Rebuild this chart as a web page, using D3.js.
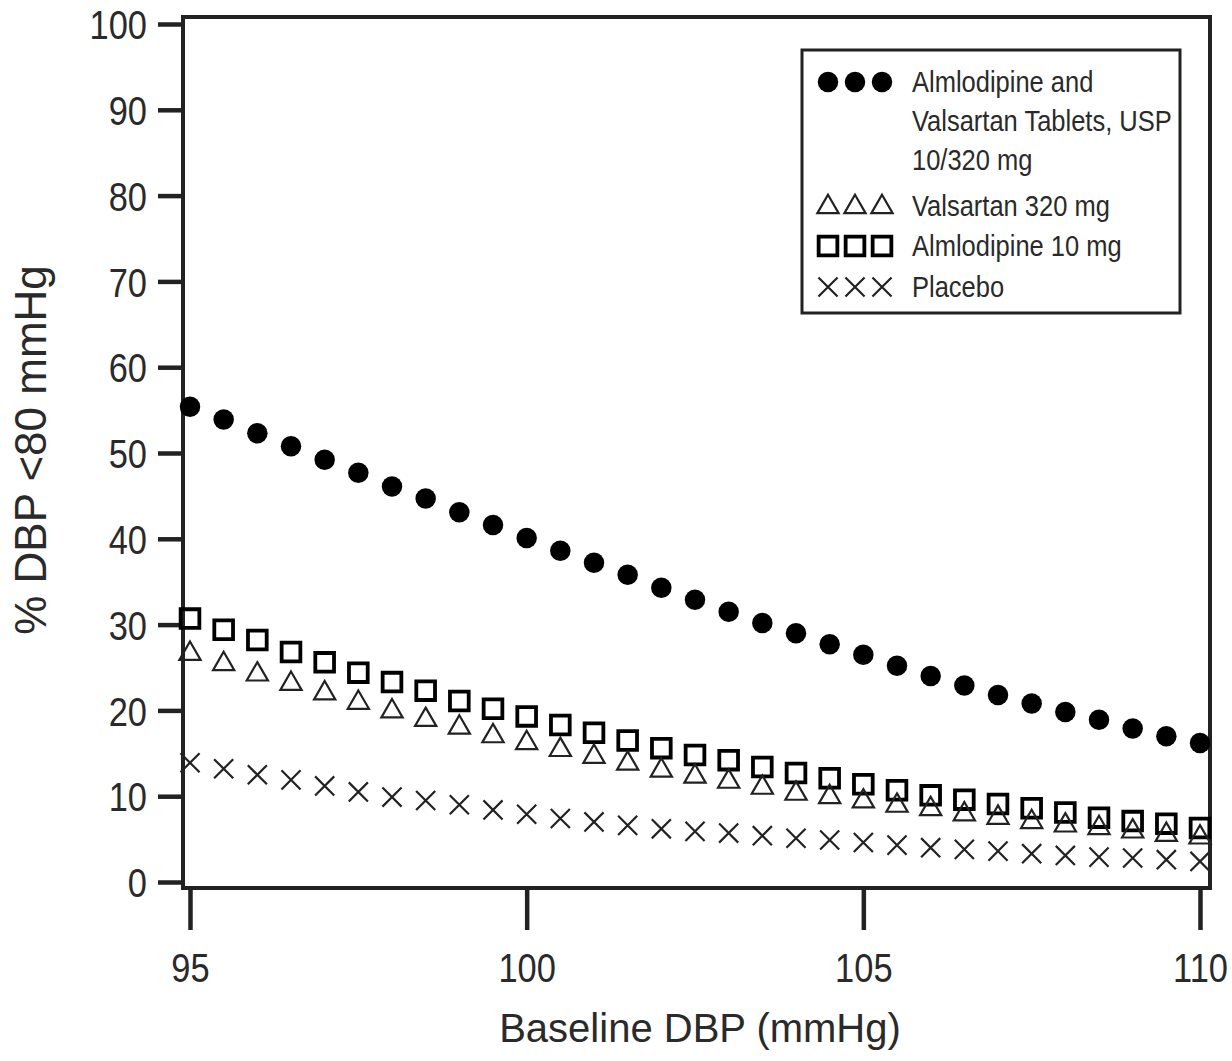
<!DOCTYPE html>
<html><head><meta charset="utf-8">
<script src="https://cdn.jsdelivr.net/npm/d3@7"></script>
<style>
html,body{margin:0;padding:0;background:#fff;}
svg{display:block;}
text{font-family:"Liberation Sans",Arial,Helvetica,sans-serif;fill:#2a2a2a;}
</style></head>
<body>
<svg id="chart" width="1232" height="1061"></svg>
<script>
const baselineDBP = [95,95.5,96,96.5,97,97.5,98,98.5,99,99.5,100,100.5,101,101.5,102,102.5,103,103.5,104,104.5,105,105.5,106,106.5,107,107.5,108,108.5,109,109.5,110];
const combo10_320 = [55.4,53.9,52.3,50.8,49.2,47.7,46.1,44.7,43.1,41.6,40.1,38.6,37.2,35.8,34.3,32.9,31.5,30.2,29.0,27.7,26.5,25.2,24.0,22.9,21.8,20.8,19.8,18.9,17.9,17.0,16.2];
const valsartan320 = [26.6,25.4,24.2,23.1,22.0,20.9,19.9,18.9,18.0,17.0,16.2,15.4,14.6,13.8,13.0,12.3,11.7,11.0,10.3,9.9,9.4,8.9,8.5,7.9,7.5,7.0,6.6,6.3,5.9,5.5,5.2];
const amlodipine10 = [30.7,29.4,28.2,26.8,25.6,24.4,23.3,22.3,21.1,20.2,19.3,18.3,17.4,16.5,15.6,14.8,14.2,13.4,12.7,12.1,11.4,10.7,10.1,9.6,9.1,8.6,8.1,7.5,7.1,6.8,6.3];
const placebo = [13.9,13.2,12.5,11.9,11.2,10.5,9.9,9.5,9.0,8.4,7.9,7.4,7.0,6.6,6.2,5.9,5.7,5.4,5.1,4.9,4.6,4.3,4.0,3.8,3.6,3.3,3.1,2.9,2.8,2.6,2.4];
const yTicks = [0,10,20,30,40,50,60,70,80,90,100];
const xTicks = [95,100,105,110];
const legendLabels = [["Almlodipine and","Valsartan Tablets, USP","10/320 mg"],["Valsartan 320 mg"],["Almlodipine 10 mg"],["Placebo"]];
const xTitle = "Baseline DBP (mmHg)";
const yTitle = "% DBP <80 mmHg";

const svg = d3.select("#chart");
const frame = {l:183, r:1210, t:17, b:888};
const x = d3.scaleLinear().domain([95,110]).range([190,1200]);
const y = d3.scaleLinear().domain([0,100]).range([882,24]);
const ink = "#222";
const narrow = 0.84;

// frame
svg.append("rect").attr("x",frame.l).attr("y",frame.t)
  .attr("width",frame.r-frame.l).attr("height",frame.b-frame.t)
  .attr("fill","none").attr("stroke",ink).attr("stroke-width",4);

// y axis
const yAxis = svg.append("g").attr("transform",`translate(${frame.l},0)`)
  .call(d3.axisLeft(y).tickValues(yTicks).tickSize(25).tickFormat(d3.format("d")));
yAxis.select(".domain").remove();
yAxis.selectAll(".tick line").attr("stroke",ink).attr("stroke-width",4.5);
yAxis.selectAll(".tick text").attr("font-size",41).attr("fill","#2a2a2a")
  .attr("font-family","'Liberation Sans',Arial,sans-serif")
  .attr("x",0).attr("dy","0.36em")
  .attr("transform",`translate(-36,0) scale(${narrow},1)`);

// x axis
const xAxis = svg.append("g").attr("transform",`translate(0,${frame.b})`)
  .call(d3.axisBottom(x).tickValues(xTicks).tickSize(42).tickFormat(d3.format("d")));
xAxis.select(".domain").remove();
xAxis.selectAll(".tick line").attr("stroke",ink).attr("stroke-width",4.5);
xAxis.selectAll(".tick text").attr("font-size",41).attr("fill","#2a2a2a")
  .attr("font-family","'Liberation Sans',Arial,sans-serif")
  .attr("x",0).attr("y",94).attr("dy",0)
  .attr("transform",`scale(${narrow},1)`);

// titles
svg.append("text").attr("x",700).attr("y",1042).attr("text-anchor","middle")
  .attr("font-size",40).text(xTitle);
svg.append("text").attr("transform","translate(46,450) rotate(-90)").attr("text-anchor","middle")
  .attr("font-size",44).text(yTitle);

// symbols
const sym = {
  circle: d3.symbol().type(d3.symbolCircle).size(330),
  square: d3.symbol().type(d3.symbolSquare).size(350),
  tri: d3.symbol().type(d3.symbolTriangle).size(195),
  times: d3.symbol().type(d3.symbolTimes).size(240)
};
const styles = {
  circle: s => s.attr("fill","#000").attr("stroke","none"),
  square: s => s.attr("fill","none").attr("stroke","#000").attr("stroke-width",3.8),
  tri: s => s.attr("fill","none").attr("stroke",ink).attr("stroke-width",2.2),
  times: s => s.attr("fill","none").attr("stroke",ink).attr("stroke-width",2.2)
};
const series = [
  {vals: placebo, s:"times"},
  {vals: amlodipine10, s:"square"},
  {vals: valsartan320, s:"tri"},
  {vals: combo10_320, s:"circle"}
];
series.forEach(ser => {
  const g = svg.append("g");
  g.selectAll("path").data(baselineDBP.map((b,i)=>({b, v:ser.vals[i]})))
    .join("path")
    .attr("transform",d=>`translate(${x(d.b)},${y(d.v)})`)
    .attr("d", sym[ser.s])
    .call(styles[ser.s]);
});

// legend
const lg = svg.append("g");
lg.append("rect").attr("x",802).attr("y",50).attr("width",378).attr("height",263)
  .attr("fill","#fff").attr("stroke",ink).attr("stroke-width",3);
const legItems = [
  {s:"circle", yc:82},
  {s:"tri", yc:206},
  {s:"square", yc:246},
  {s:"times", yc:287}
];
const legX = [828,855,882];
legItems.forEach((it,k) => {
  lg.append("g").selectAll("path").data(legX).join("path")
    .attr("transform",d=>`translate(${d},${it.yc + (it.s==="tri"?1:0)})`)
    .attr("d", sym[it.s])
    .call(styles[it.s]);
  legendLabels[k].forEach((line,j) => {
    lg.append("text")
      .attr("transform",`translate(912,${it.yc + 10 + j*39}) scale(0.85,1)`)
      .attr("font-size",30).text(line);
  });
});
</script>
</body></html>
